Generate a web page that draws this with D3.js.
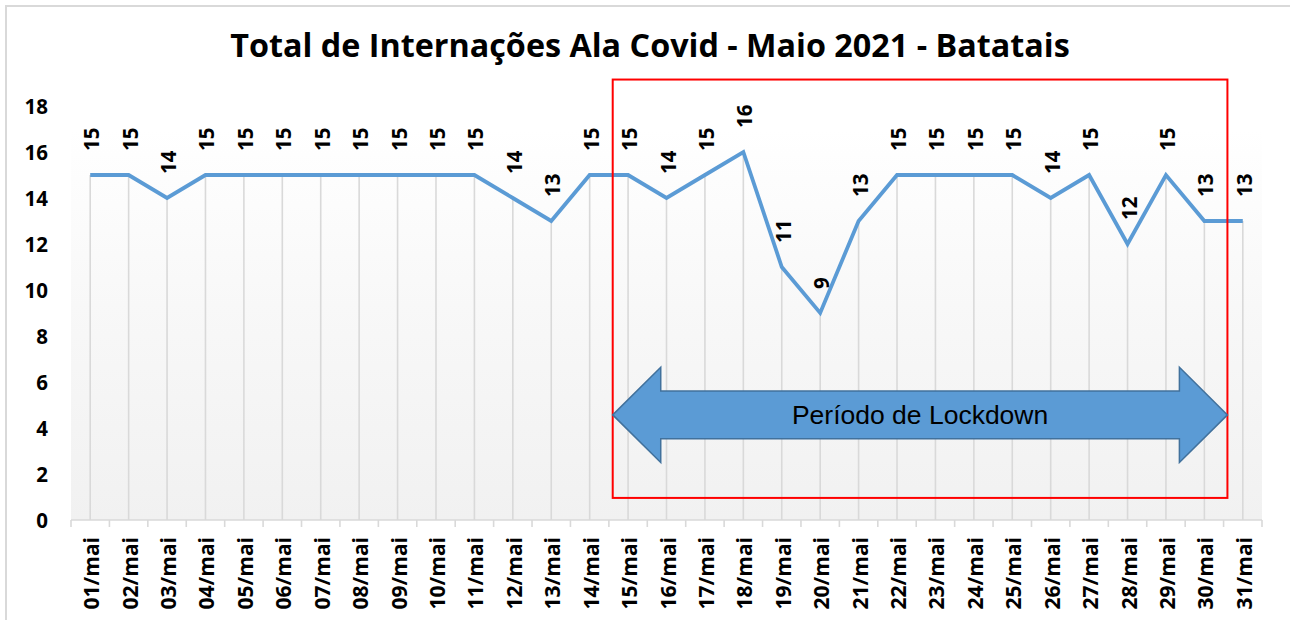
<!DOCTYPE html>
<html>
<head>
<meta charset="utf-8">
<script src="https://cdn.jsdelivr.net/npm/d3@7"></script>
<style>
  html, body { margin: 0; padding: 0; background: #ffffff; }
  svg { display: block; }
</style>
</head>
<body>
<svg id="chart" width="1290" height="620"></svg>
<script>
// ---- data ----
const days = ["01/mai","02/mai","03/mai","04/mai","05/mai","06/mai","07/mai","08/mai","09/mai","10/mai",
              "11/mai","12/mai","13/mai","14/mai","15/mai","16/mai","17/mai","18/mai","19/mai","20/mai",
              "21/mai","22/mai","23/mai","24/mai","25/mai","26/mai","27/mai","28/mai","29/mai","30/mai","31/mai"];
const internacoes = [15,15,14,15,15,15,15,15,15,15,
                     15,14,13,15,15,14,15,16,11,9,
                     13,15,15,15,15,14,15,12,15,13,13];
const yTicks = [0,2,4,6,8,10,12,14,16,18];
const titleText = "Total de Internações Ala Covid - Maio 2021 - Batatais";
const lockdownLabel = "Período de Lockdown";
// lockdown annotation extent, in category-index units (0 = 01/mai) and value units
const lockdownStart = 13.6, lockdownEnd = 29.6;
const boxTop = 19.15, boxBottom = 0.96;
const arrowCenter = 4.57, arrowBodyHalf = 1.04, arrowHeadHalf = 2.07, arrowHeadLen = 1.25;

// ---- layout ----
const svg = d3.select("#chart");
const plot = { left: 71, right: 1262, top: 106, bottom: 520 };

const x = d3.scalePoint().domain(days).range([plot.left, plot.right]).padding(0.5);
const step = x.step();
const xi = d3.scaleLinear().domain([0, days.length - 1]).range([x(days[0]), x(days[days.length - 1])]);
const y = d3.scaleLinear().domain([0, 18]).range([plot.bottom, plot.top]);

// outer border
svg.append("rect").attr("x", 6).attr("y", 6).attr("width", 1400).attr("height", 800)
  .attr("fill", "none").attr("stroke", "#d9d9d9").attr("stroke-width", 2);

// plot background gradient
const defs = svg.append("defs");
const grad = defs.append("linearGradient").attr("id", "bg").attr("x1", 0).attr("y1", 0).attr("x2", 0).attr("y2", 1);
grad.append("stop").attr("offset", "0%").attr("stop-color", "#ffffff");
grad.append("stop").attr("offset", "45%").attr("stop-color", "#f8f8f8");
grad.append("stop").attr("offset", "100%").attr("stop-color", "#f1f1f1");
svg.append("rect").attr("x", plot.left).attr("y", y(17)).attr("width", plot.right - plot.left)
  .attr("height", plot.bottom - y(17)).attr("fill", "url(#bg)");

// title
const title = svg.append("text").attr("x", 650).attr("y", 57).attr("text-anchor", "middle")
  .attr("font-family", "'Open Sans', sans-serif").attr("font-weight", 700).attr("font-size", 28)
  .attr("fill", "#000").text(titleText);
const tw = title.node().getComputedTextLength();
title.attr("font-size", 28 * 840 / tw);

// drop lines
svg.append("g").selectAll("line").data(days).join("line")
  .attr("x1", d => x(d)).attr("x2", d => x(d))
  .attr("y1", (d, i) => y(internacoes[i])).attr("y2", plot.bottom)
  .attr("stroke", "#d9d9d9").attr("stroke-width", 1.6);

// x axis
const xAxisG = svg.append("g");
xAxisG.append("line").attr("x1", plot.left).attr("x2", plot.right).attr("y1", plot.bottom).attr("y2", plot.bottom)
  .attr("stroke", "#d9d9d9").attr("stroke-width", 1.6);
const boundaries = d3.range(days.length + 1).map(i => plot.left + i * step);
xAxisG.selectAll("line.tick").data(boundaries).join("line").attr("class", "tick")
  .attr("x1", d => d).attr("x2", d => d).attr("y1", plot.bottom).attr("y2", plot.bottom + 7)
  .attr("stroke", "#d9d9d9").attr("stroke-width", 1.6);
xAxisG.selectAll("text").data(days).join("text")
  .attr("transform", d => `translate(${x(d) + 1},537) rotate(-90)`)
  .attr("text-anchor", "end").attr("dominant-baseline", "central")
  .attr("font-family", "'Open Sans', sans-serif").attr("font-weight", 700).attr("font-size", 21)
  .attr("fill", "#000").text(d => d);

// y axis labels
svg.append("g").selectAll("text").data(yTicks).join("text")
  .attr("x", 48).attr("y", d => y(d)).attr("text-anchor", "end").attr("dominant-baseline", "central")
  .attr("font-family", "'Open Sans', sans-serif").attr("font-weight", 700).attr("font-size", 20.5)
  .attr("fill", "#000").text(d => d);

// line
const line = d3.line().x((d, i) => x(days[i])).y(d => y(d));
svg.append("path").datum(internacoes).attr("d", line)
  .attr("fill", "none").attr("stroke", "#5b9bd5").attr("stroke-width", 3.8)
  .attr("stroke-linejoin", "miter").attr("stroke-linecap", "butt");

// data labels
svg.append("g").selectAll("text").data(internacoes).join("text")
  .attr("transform", (d, i) => `translate(${x(days[i]) + 1},${y(d) - 24}) rotate(-90)`)
  .attr("text-anchor", "start").attr("dominant-baseline", "central")
  .attr("font-family", "'Open Sans', sans-serif").attr("font-weight", 700).attr("font-size", 20.5)
  .attr("fill", "#000").text(d => d);

// lockdown box
svg.append("rect")
  .attr("x", xi(lockdownStart)).attr("y", y(boxTop))
  .attr("width", xi(lockdownEnd) - xi(lockdownStart)).attr("height", y(boxBottom) - y(boxTop))
  .attr("fill", "none").attr("stroke", "#ff0000").attr("stroke-width", 2);

// double arrow
const ax0 = xi(lockdownStart), ax1 = xi(lockdownEnd);
const hl = arrowHeadLen * step;
const cy = y(arrowCenter);
const bh = y(0) - y(arrowBodyHalf), hh = y(0) - y(arrowHeadHalf);
const pts = [
  [ax0, cy], [ax0 + hl, cy - hh], [ax0 + hl, cy - bh], [ax1 - hl, cy - bh], [ax1 - hl, cy - hh],
  [ax1, cy], [ax1 - hl, cy + hh], [ax1 - hl, cy + bh], [ax0 + hl, cy + bh], [ax0 + hl, cy + hh]
];
svg.append("path").attr("d", "M" + pts.map(p => p.join(",")).join("L") + "Z")
  .attr("fill", "#5b9bd5").attr("stroke", "#41719c").attr("stroke-width", 1.5);
svg.append("text").attr("x", (ax0 + ax1) / 2).attr("y", cy + 9).attr("text-anchor", "middle")
  .attr("font-family", "'Liberation Sans', Arial, sans-serif").attr("font-size", 26.5)
  .attr("fill", "#000").text(lockdownLabel);
</script>
</body>
</html>
